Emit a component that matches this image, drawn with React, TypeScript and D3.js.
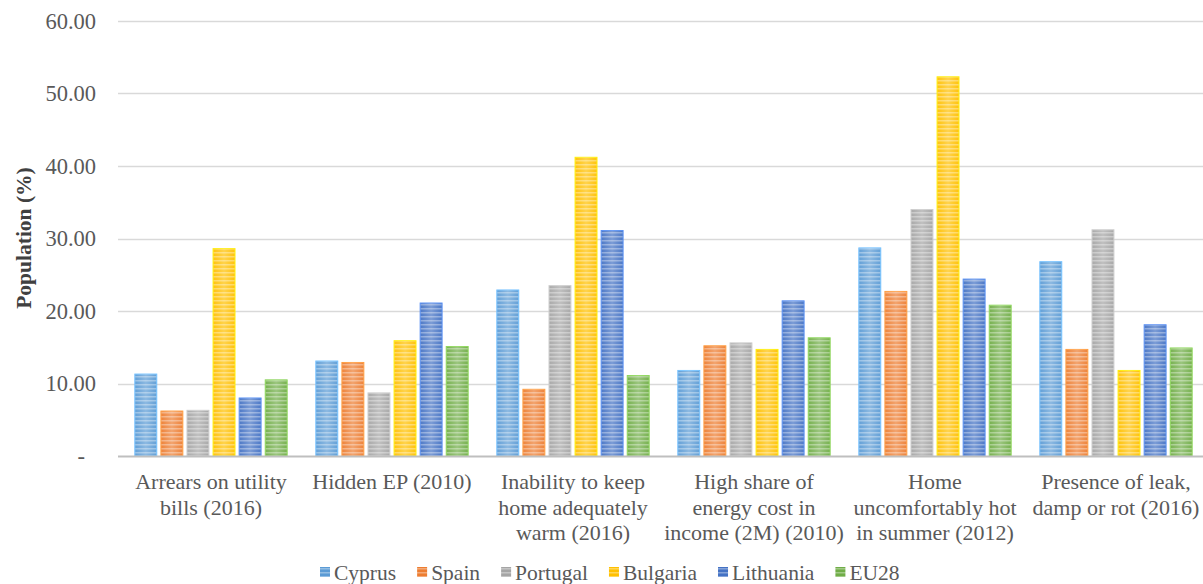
import React, { useEffect, useRef } from 'react'
import * as d3 from 'd3'

// categories (x axis), each one split in lines
const categories = [
  ['Arrears on utility', 'bills (2016)'],
  ['Hidden EP (2010)'],
  ['Inability to keep', 'home adequately', 'warm (2016)'],
  ['High share of', 'energy cost in', 'income (2M) (2010)'],
  ['Home', 'uncomfortably hot', 'in summer (2012)'],
  ['Presence of leak,', 'damp or rot (2016)'],
]

const countries = ['Cyprus', 'Spain', 'Portugal', 'Bulgaria', 'Lithuania', 'EU28']
const colors = ['#5b9bd5', '#ed7d31', '#a5a5a5', '#ffc000', '#4472c4', '#70ad47']

// one array per country, in category order
const cyprus = [11.3, 13.1, 22.9, 11.8, 28.7, 26.8]
const spain = [6.2, 12.9, 9.2, 15.2, 22.7, 14.7]
const portugal = [6.3, 8.7, 23.5, 15.6, 34.0, 31.2]
const bulgaria = [28.6, 15.9, 41.2, 14.7, 52.3, 11.8]
const lithuania = [8.0, 21.1, 31.1, 21.4, 24.4, 18.1]
const eu28 = [10.5, 15.1, 11.1, 16.3, 20.8, 14.9]
const series = [cyprus, spain, portugal, bulgaria, lithuania, eu28]

const yTicks = [0, 10, 20, 30, 40, 50, 60]
const yTickLabels = ['-', '10.00', '20.00', '30.00', '40.00', '50.00', '60.00']

const W = 1203
const H = 584
const FONT = '"Liberation Serif", "Times New Roman", serif'

export default function App() {
  const ref = useRef<SVGSVGElement>(null)

  useEffect(() => {
    const svg = d3.select(ref.current)
    svg.selectAll('*').remove()

    const left = 120.5
    const bandW = 181
    const x = d3.scaleBand<number>()
      .domain(d3.range(categories.length))
      .range([left, left + bandW * categories.length])
      .paddingInner(0)
      .paddingOuter(0)
    const y = d3.scaleLinear().domain([0, 60]).range([456, 21])

    const xi = d3.scaleBand<number>()
      .domain(d3.range(countries.length))
      .range([0, bandW])
      .paddingOuter(0.55)
      .paddingInner(0.16)

    // stripe patterns for bars
    const defs = svg.append('defs')
    colors.forEach((c, i) => {
      const g = defs.append('linearGradient').attr('id', 'shine' + i)
        .attr('x1', 0).attr('x2', 1).attr('y1', 0).attr('y2', 0)
      g.append('stop').attr('offset', '0%').attr('stop-color', '#fff').attr('stop-opacity', 0.05)
      g.append('stop').attr('offset', '50%').attr('stop-color', '#fff').attr('stop-opacity', 0.3)
      g.append('stop').attr('offset', '100%').attr('stop-color', '#fff').attr('stop-opacity', 0.05)

      const p = defs.append('pattern').attr('id', 'stripe' + i)
        .attr('patternUnits', 'userSpaceOnUse')
        .attr('width', 4).attr('height', 4)
      p.append('rect').attr('width', 4).attr('height', 4).attr('fill', c)
      p.append('rect').attr('y', 0).attr('width', 4).attr('height', 1.5)
        .attr('fill', '#fff').attr('fill-opacity', 0.35)
    })

    // gridlines
    svg.append('g').selectAll('line')
      .data(yTicks.slice(1))
      .enter().append('line')
      .attr('x1', 118).attr('x2', W)
      .attr('y1', d => Math.round(y(d)) + 0.5)
      .attr('y2', d => Math.round(y(d)) + 0.5)
      .attr('stroke', '#d9d9d9')
      .attr('stroke-width', 1.3)

    // y tick labels
    svg.append('g').selectAll('text')
      .data(yTicks)
      .enter().append('text')
      .attr('x', (d, i) => (i === 0 ? 85 : 96))
      .attr('y', d => y(d) + 7.5)
      .attr('text-anchor', 'end')
      .attr('font-family', FONT)
      .attr('font-size', 22.5)
      .attr('fill', '#595959')
      .text((d, i) => yTickLabels[i])

    // bars
    series.forEach((vals, s) => {
      const g = svg.append('g')
      const bx = (i: number) => x(i)! + xi(s)!
      g.selectAll('rect.base')
        .data(vals)
        .enter().append('rect')
        .attr('x', (d, i) => bx(i))
        .attr('y', d => y(d))
        .attr('width', xi.bandwidth())
        .attr('height', d => y(0) - y(d))
        .attr('fill', `url(#stripe${s})`)
        .attr('stroke', d3.color(colors[s])!.brighter(0.6).toString())
        .attr('stroke-width', 1)
      g.selectAll('rect.shine')
        .data(vals)
        .enter().append('rect')
        .attr('x', (d, i) => bx(i))
        .attr('y', d => y(d))
        .attr('width', xi.bandwidth())
        .attr('height', d => y(0) - y(d))
        .attr('fill', `url(#shine${s})`)
    })

    // baseline
    svg.append('line')
      .attr('x1', 118).attr('x2', W)
      .attr('y1', 456.5).attr('y2', 456.5)
      .attr('stroke', '#bfbfbf').attr('stroke-width', 2)

    // category labels
    const cat = svg.append('g')
    categories.forEach((lines, i) => {
      const t = cat.append('text')
        .attr('text-anchor', 'middle')
        .attr('font-family', FONT)
        .attr('font-size', 22)
        .attr('fill', '#595959')
      lines.forEach((ln, k) => {
        t.append('tspan')
          .attr('x', x(i)! + bandW / 2)
          .attr('y', 489 + k * 25.5)
          .text(ln)
      })
    })

    // y title
    svg.append('text')
      .attr('transform', 'translate(31,238) rotate(-90)')
      .attr('text-anchor', 'middle')
      .attr('font-family', FONT)
      .attr('font-size', 21.5)
      .attr('font-weight', 'bold')
      .attr('fill', '#404040')
      .text('Population (%)')

    // legend
    const leg = svg.append('g')
    let lx = 0
    const gap = 21
    countries.forEach((name, i) => {
      const item = leg.append('g').attr('transform', `translate(${lx},0)`)
      item.append('rect')
        .attr('x', 0).attr('y', 567)
        .attr('width', 10).attr('height', 10)
        .attr('fill', `url(#stripe${i})`)
      const t = item.append('text')
        .attr('x', 14).attr('y', 580)
        .attr('font-family', FONT)
        .attr('font-size', 21.5)
        .attr('fill', '#595959')
        .text(name)
      const tw = (t.node() as SVGTextElement).getComputedTextLength()
      lx += 14 + tw + gap
    })
    const total = lx - gap
    leg.attr('transform', `translate(${Math.round(610 - total / 2)},0)`)
  }, [])

  return (
    <svg ref={ref} width={W} height={H} style={{ position: 'absolute', left: 0, top: 0, background: '#fff' }} />
  )
}
